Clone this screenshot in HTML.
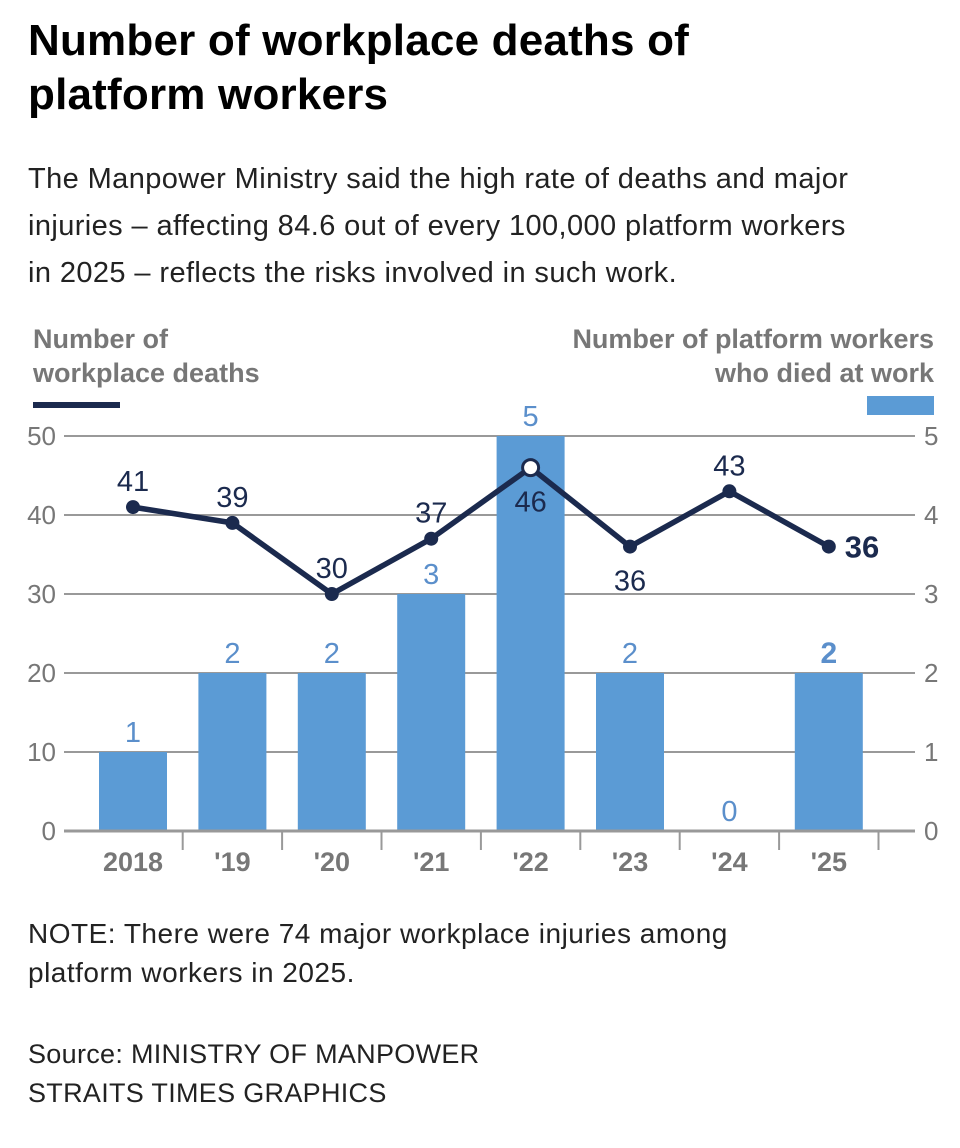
<!DOCTYPE html>
<html><head><meta charset="utf-8"><style>
body{margin:0;width:960px;height:1148px;background:#fff;font-family:"Liberation Sans",sans-serif;overflow:hidden;position:relative}
.t{position:absolute;margin:0;white-space:nowrap}
</style></head><body>
<h1 class="t" style="left:28px;top:14px;font-size:44px;line-height:54px;font-weight:bold;color:#000;letter-spacing:0.2px">Number of workplace deaths of<br>platform workers</h1>
<p class="t" style="left:28px;top:156px;font-size:29px;line-height:47px;color:#222;letter-spacing:0.4px">The Manpower Ministry said the high rate of deaths and major<br>injuries – affecting 84.6 out of every 100,000 platform workers<br>in 2025 – reflects the risks involved in such work.</p>
<svg width="960" height="900" style="position:absolute;left:0;top:0" id="chart"></svg>
<p class="t" style="left:28px;top:914px;font-size:28px;line-height:39px;color:#222;letter-spacing:0.5px">NOTE: There were 74 major workplace injuries among<br>platform workers in 2025.</p>
<p class="t" style="left:28px;top:1035px;font-size:27px;line-height:39px;color:#222;letter-spacing:0.3px">Source: MINISTRY OF MANPOWER<br>STRAITS TIMES GRAPHICS</p>
<script>
const categories=["2018","'19","'20","'21","'22","'23","'24","'25"];
const deaths=[41,39,30,37,46,36,43,36];
const platformDeaths=[1,2,2,3,5,2,0,2];
const leftTicks=[0,10,20,30,40,50];
const rightTicks=[0,1,2,3,4,5];
const svg=document.getElementById('chart');
const NS='http://www.w3.org/2000/svg';
function el(t,a,txt){const e=document.createElementNS(NS,t);for(const k in a)e.setAttribute(k,a[k]);if(txt!==undefined)e.textContent=txt;svg.appendChild(e);return e;}
const y0=831,yTop=436;
const yL=v=>y0-(y0-yTop)*v/50;
const yR=v=>y0-(y0-yTop)*v/5;
const xC=i=>133+i*99.4;
let e;
e=el('text',{x:33,y:348,'font-size':27,'font-weight':'bold',fill:'#777'},'Number of');
e=el('text',{x:33,y:382,'font-size':27,'font-weight':'bold',fill:'#777'},'workplace deaths');
e=el('rect',{x:33,y:402,width:87,height:6,fill:'#1b2a4e'});
e=el('text',{x:934,y:348,'font-size':27,'font-weight':'bold',fill:'#777','text-anchor':'end'},'Number of platform workers');
e=el('text',{x:934,y:382,'font-size':27,'font-weight':'bold',fill:'#777','text-anchor':'end'},'who died at work');
e=el('rect',{x:867,y:396,width:67,height:19,fill:'#5b9bd5'});
leftTicks.forEach(v=>{
 if(v>0){e=el('line',{x1:64,x2:915,y1:yL(v),y2:yL(v),stroke:'#999','stroke-width':2});}
 e=el('text',{x:56,y:yL(v)+9,'font-size':26,fill:'#777','text-anchor':'end'},v);
});
rightTicks.forEach(v=>{e=el('text',{x:924,y:yR(v)+9,'font-size':26,fill:'#777'},v);});
platformDeaths.forEach((v,i)=>{
 e=el('rect',{x:xC(i)-34,y:yR(v),width:68,height:y0-yR(v),fill:'#5b9bd5'});
 e=el('text',{x:xC(i),y:yR(v)-10,'font-size':i==7?30:29,fill:'#5b8fcb','text-anchor':'middle','font-weight':i==7?'bold':'normal'},v);
});
e=el('line',{x1:64,x2:915,y1:y0,y2:y0,stroke:'#999','stroke-width':3});
categories.forEach((c,i)=>{
 e=el('line',{x1:xC(i)+49.7,x2:xC(i)+49.7,y1:y0,y2:850,stroke:'#999','stroke-width':2});
 e=el('text',{x:xC(i),y:871,'font-size':27,'font-weight':'bold',fill:'#777','text-anchor':'middle'},c);
});
e=el('polyline',{points:deaths.map((v,i)=>xC(i)+','+yL(v)).join(' '),fill:'none',stroke:'#1b2a4e','stroke-width':5.5,'stroke-linejoin':'round'});
deaths.forEach((v,i)=>{
 const hi=i==4;
 e=el('circle',{cx:xC(i),cy:yL(v),r:hi?8:7,fill:hi?'#fff':'#1b2a4e',stroke:hi?'#1b2a4e':'none','stroke-width':3});
 const below=(i==4||i==5);
 let a={x:xC(i),y:below?yL(v)+44:yL(v)-16,'font-size':29,fill:'#1b2a4e','text-anchor':'middle'};
 if(i==7){a={x:xC(i)+16,y:yL(v)+11,'font-size':31,'font-weight':'bold',fill:'#1b2a4e'};}
 e=el('text',a,v);
});
</script>
</body></html>
